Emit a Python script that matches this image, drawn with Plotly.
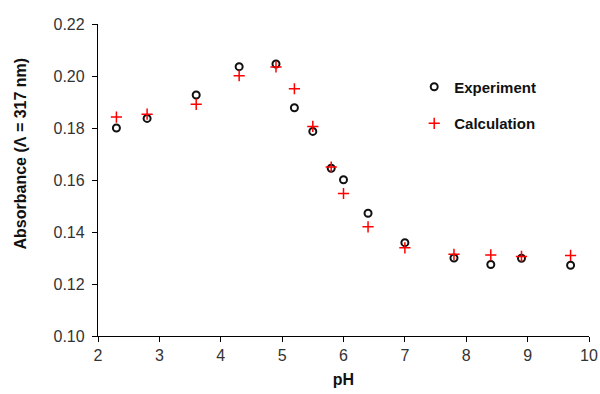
import plotly.graph_objects as go

ph = [2.3, 2.8, 3.6, 4.3, 4.9, 5.2, 5.5, 5.8, 6.0, 6.4, 7.0, 7.8, 8.4, 8.9, 9.7]
experiment = [0.1800, 0.1837, 0.1927, 0.2036, 0.2046, 0.1878, 0.1787, 0.1645,
              0.1601, 0.1472, 0.1359, 0.1300, 0.1275, 0.1299, 0.1272]
calculation = [0.1842, 0.1853, 0.1891, 0.2001, 0.2035, 0.1951, 0.1806, 0.1650,
               0.1548, 0.1420, 0.1339, 0.1314, 0.1312, 0.1306, 0.1310]

x_ticks = [2, 3, 4, 5, 6, 7, 8, 9, 10]
y_ticks = [0.10, 0.12, 0.14, 0.16, 0.18, 0.20, 0.22]

FONT = "Liberation Sans, Arial, sans-serif"
TICK_COLOR = "#333333"

fig = go.Figure()
fig.add_trace(go.Scatter(
    x=ph, y=experiment, mode="markers", name="<b>Experiment</b>",
    marker=dict(symbol="circle-open", size=7, color="#111111", line=dict(width=2, color="#111111")),
    legend="legend", showlegend=True,
))
fig.add_trace(go.Scatter(
    x=ph, y=calculation, mode="markers", name="<b>Calculation</b>",
    marker=dict(symbol="cross-thin-open", size=8, color="#ff0000", line=dict(width=1.5, color="#ff0000")),
    legend="legend2", showlegend=True,
))

axis_common = dict(
    showline=True, linecolor="black", linewidth=1.3, mirror=False,
    showgrid=False, zeroline=False, ticks="outside", ticklen=5, tickwidth=1.3,
    tickcolor="black", tickfont=dict(family=FONT, size=16, color=TICK_COLOR),
    automargin=False,
)

fig.update_layout(
    width=600, height=394,
    margin=dict(l=98, r=11, t=24, b=58),
    paper_bgcolor="white", plot_bgcolor="white",
    showlegend=True,
    font=dict(family=FONT, size=15, color="#111111"),
    xaxis=dict(range=[2, 10], tickvals=x_ticks, ticktext=[str(v) for v in x_ticks],
               title=dict(text="<b>pH</b>", font=dict(family=FONT, size=16, color="#111111"), standoff=10),
               **axis_common),
    yaxis=dict(range=[0.10, 0.22], tickvals=y_ticks, ticktext=[f"{v:.2f}" for v in y_ticks],
               ticklabelstandoff=4,
               **axis_common),
    legend=dict(x=0.644, y=0.798, xanchor="left", yanchor="middle", bgcolor="rgba(0,0,0,0)",
                font=dict(family=FONT, size=15, color="#111111"), itemwidth=30),
    legend2=dict(x=0.644, y=0.681, xanchor="left", yanchor="middle", bgcolor="rgba(0,0,0,0)",
                 font=dict(family=FONT, size=15, color="#111111"), itemwidth=30),
    annotations=[dict(
        text="<b>Absorbance (\u039b = 317 nm)</b>", textangle=-90,
        xref="paper", yref="paper", x=0, y=0.585, xanchor="center", yanchor="middle",
        xshift=-78, showarrow=False, font=dict(family=FONT, size=16, color="#111111"),
    )],
)

fig.write_html("out.html")
